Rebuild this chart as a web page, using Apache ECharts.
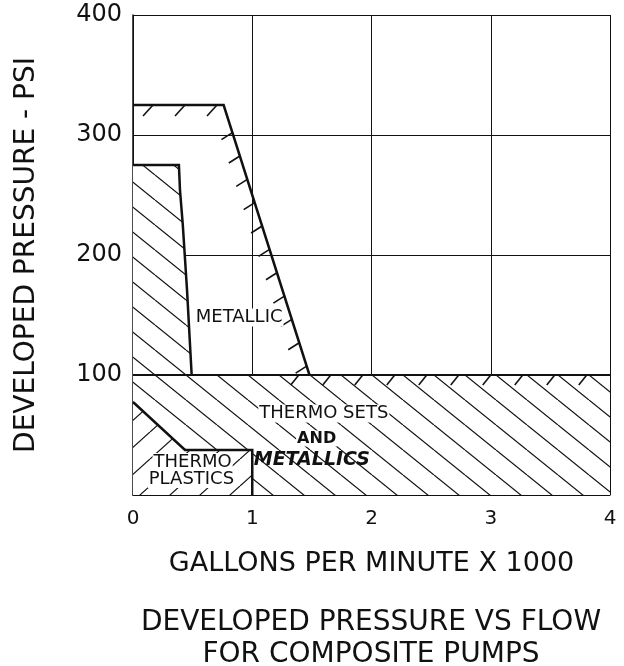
<!DOCTYPE html>
<html>
<head>
<meta charset="utf-8">
<script src="https://cdn.jsdelivr.net/npm/echarts@6/dist/echarts.min.js"></script>
<style>
html, body { margin: 0; background: #fff; }
#chart { width: 624px; height: 666px; }
</style>
</head>
<body>
<div id="chart"></div>
<script>
// axis ticks
var xTicks = [0, 1, 2, 3, 4];
var yTicks = [0, 100, 200, 300, 400];

// region boundaries, [gpm x 1000, psi]
var metallicLimit = [[0, 325], [0.76, 325], [1.48, 100]];
var thermoSetsUpper = [[0, 275], [0.385, 275], [0.394, 254], [0.417, 226], [0.453, 171], [0.492, 100]];
var thermoSetsLower = [[0, 0], [4, 0], [4, 100], [0, 100]];
var thermoPlastics = [[0, 77.5], [0.436, 37.5], [1, 37.5], [1, 0]];
var lowerTickEdge = [[1.39, 100], [4, 100]];

// region names and where they sit (data units)
var labelText = ['METALLIC', 'THERMO SETS', 'AND', 'METALLICS', 'THERMO', 'PLASTICS'];
var labelAt = [[0.89, 148], [1.6, 68], [1.54, 47], [1.5, 29], [0.5, 27.5], [0.49, 13.3]];

var ink = '#111';
var fontName = '"DejaVu Sans", sans-serif';

// hatch tile: dir 1 = "\" , dir -1 = "/"
function hatch(w, h, dir) {
  var c = document.createElement('canvas');
  c.width = w; c.height = h;
  var ctx = c.getContext('2d');
  ctx.fillStyle = '#fff';
  ctx.fillRect(0, 0, w, h);
  ctx.strokeStyle = ink;
  ctx.lineWidth = 1.2;
  for (var k = -1; k <= 1; k++) {
    ctx.beginPath();
    if (dir > 0) { ctx.moveTo(k * w, 0); ctx.lineTo(k * w + w, h); }
    else { ctx.moveTo(k * w, h); ctx.lineTo(k * w + w, 0); }
    ctx.stroke();
  }
  return { image: c, repeat: 'repeat' };
}
var backHatch = hatch(31, 25, 1);
var fwdHatch = hatch(30, 27, -1);

function toPx(api, pts) {
  return pts.map(function (p) { return api.coord(p); });
}

// little slanted ticks along an edge
function ticks(api, a, b, start, gap, dx, dy) {
  var p = api.coord(a), q = api.coord(b);
  var len = Math.hypot(q[0] - p[0], q[1] - p[1]);
  var out = [];
  for (var s = start; s <= len + 0.5; s += gap) {
    var t = s / len;
    var x = p[0] + (q[0] - p[0]) * t, y = p[1] + (q[1] - p[1]) * t;
    out.push({ type: 'line', shape: { x1: x, y1: y, x2: x + dx, y2: y + dy },
      style: { stroke: ink, lineWidth: 1.6 } });
  }
  return out;
}

function layer(z, fn) {
  return { type: 'custom', data: [[0, 0]], clip: false, z: z, silent: true,
    renderItem: function (params, api) { return { type: 'group', children: fn(api) }; } };
}

var chart = echarts.init(document.getElementById('chart'));

var option = {
  animation: false,
  backgroundColor: '#fff',
  grid: { left: 133, right: 14, top: 15, bottom: 171 },
  xAxis: {
    type: 'value', min: xTicks[0], max: xTicks[xTicks.length - 1], interval: 1,
    name: 'GALLONS PER MINUTE X 1000', nameLocation: 'middle', nameGap: 55,
    nameTextStyle: { fontFamily: fontName, fontSize: 27, color: ink },
    axisLine: { lineStyle: { color: ink, width: 1.5 } },
    axisTick: { show: false },
    axisLabel: { margin: 14, fontFamily: fontName, fontSize: 20, color: ink },
    splitLine: { lineStyle: { color: ink, width: 1 } }
  },
  yAxis: {
    type: 'value', min: yTicks[0], max: yTicks[yTicks.length - 1], interval: 100,
    name: 'DEVELOPED PRESSURE - PSI', nameLocation: 'middle', nameGap: 92,
    nameTextStyle: { fontFamily: fontName, fontSize: 28, color: ink },
    axisLine: { lineStyle: { color: ink, width: 1.5 } },
    axisTick: { show: false },
    axisLabel: { margin: 11, fontFamily: fontName, fontSize: 24, color: ink,
      formatter: function (v) { return v === 0 ? '' : String(v); } },
    splitLine: { lineStyle: { color: ink, width: 1 } }
  },
  graphic: [{
    type: 'text', x: 371, y: 607,
    style: { text: 'DEVELOPED PRESSURE VS FLOW\nFOR COMPOSITE PUMPS',
      font: '28px ' + fontName, fill: ink, align: 'center', lineHeight: 32 }
  }],
  series: [
    // hatched fills
    layer(1, function (api) {
      return [
        { type: 'polygon', shape: { points: toPx(api, thermoSetsLower) }, style: { fill: backHatch } },
        { type: 'polygon', shape: { points: toPx(api, [[0, 100]].concat(thermoSetsUpper)) }, style: { fill: backHatch } },
        { type: 'polygon', shape: { points: toPx(api, thermoPlastics.concat([[0, 0]])) }, style: { fill: fwdHatch } }
      ];
    }),
    // bold outlines and ticks
    layer(3, function (api) {
      var m = metallicLimit;
      return [
        { type: 'polyline', shape: { points: toPx(api, thermoSetsLower.slice(2)) }, style: { stroke: ink, lineWidth: 2, fill: null } },
        { type: 'polyline', shape: { points: toPx(api, thermoSetsUpper) }, style: { stroke: ink, lineWidth: 2.5, fill: null } },
        { type: 'polyline', shape: { points: toPx(api, thermoPlastics) }, style: { stroke: ink, lineWidth: 2.5, fill: null } },
        { type: 'polyline', shape: { points: toPx(api, metallicLimit) }, style: { stroke: ink, lineWidth: 2.5, fill: null } }
      ].concat(ticks(api, m[0], m[1], 20, 32, -10, 11))
       .concat(ticks(api, m[1], m[2], 29, 24.5, -11, 7))
       .concat(ticks(api, lowerTickEdge[0], lowerTickEdge[1], 0, 32, -8, 10));
    }),
    // region names
    layer(5, function (api) {
      return labelText.map(function (t, i) {
        var p = api.coord(labelAt[i]);
        var italic = t === 'METALLICS';
        return { type: 'text', x: p[0], y: p[1],
          style: { text: t, fill: ink, align: 'center', verticalAlign: 'middle',
            font: (italic ? 'italic bold 19px ' : (t === 'AND' ? 'bold 16px ' : '18px ')) + fontName,
            backgroundColor: italic ? null : '#fff', padding: [0, 1] } };
      });
    })
  ]
};
chart.setOption(option);
</script>
</body>
</html>
